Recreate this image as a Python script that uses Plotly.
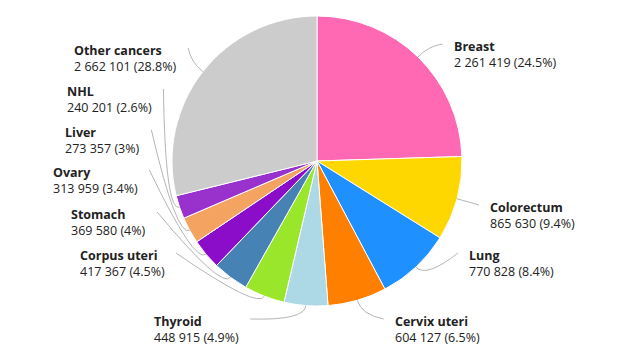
import math
import plotly.graph_objects as go

# ---- data ----
categories = ["Breast", "Colorectum", "Lung", "Cervix uteri", "Thyroid",
              "Corpus uteri", "Stomach", "Ovary", "Liver", "NHL", "Other cancers"]
cases = [2261419, 865630, 770828, 604127, 448915,
         417367, 369580, 313959, 273357, 240201, 2662101]
colors = ["#FF69B4", "#FFD700", "#1E90FF", "#FF7F00", "#ADD8E6",
          "#9AE62B", "#4682B4", "#8B0CC9", "#F4A460", "#9932CC", "#CCCCCC"]

# ---- layout parameters (pixels) ----
W, H = 625, 354
CX, CY, R = 317, 161, 145
# vertical centre of each label's first line (layout of the label column)
label_line_y = [44, 205, 253, 319, 319, 253, 212, 170, 130, 89, 48]
LABEL_R = 177          # radius of the circle the label edges sit on
LABEL_CY = CY + 5
GAP = 9

def fmt_num(v):
    return f"{v:,}".replace(",", " ")

total = sum(cases)

def fmt_pct(v):
    p = round(v / total * 100, 1)
    s = f"{p:.1f}"
    return s[:-2] if s.endswith(".0") else s

def px(x):
    return x / W

def py(y):
    return 1 - y / H

fig = go.Figure(go.Pie(
    labels=categories, values=cases, sort=False, direction="clockwise",
    rotation=0, marker=dict(colors=colors, line=dict(color="white", width=1)),
    textinfo="none", hoverinfo="label+value+percent", showlegend=False,
    domain=dict(x=[(CX - R) / W, (CX + R) / W], y=[(H - CY - R) / H, (H - CY + R) / H]),
))

annotations = []
shapes = []
cum = 0
for name, v, ly in zip(categories, cases, label_line_y):
    mid = (cum + v / 2) / total * 2 * math.pi
    cum += v
    s, c = math.sin(mid), math.cos(mid)
    right = s >= 0
    p0 = (CX + R * s, CY - R * c)
    p1 = (CX + (R + 15) * s, CY - (R + 15) * c)
    dy = ly + 7 - LABEL_CY
    dx = math.sqrt(max(LABEL_R ** 2 - dy ** 2, 0))
    edge_x = CX + dx if right else CX - dx
    end_x = edge_x - GAP if right else edge_x + GAP
    path = (f"M {px(p0[0])},{py(p0[1])} Q {px(p1[0])},{py(p1[1])} "
            f"{px(end_x)},{py(ly)}")
    shapes.append(dict(type="path", path=path, xref="paper", yref="paper",
                       line=dict(color="#B5B5B5", width=1)))
    annotations.append(dict(
        x=px(edge_x), y=py(ly - 8), xref="paper", yref="paper",
        xanchor="left" if right else "right", yanchor="top", align="left",
        showarrow=False,
        text=f"<b>{name}</b><br>{fmt_num(v)} ({fmt_pct(v)}%)",
        font=dict(family="Open Sans", size=12.5, color="#222222"),
    ))

fig.update_layout(
    width=W, height=H, margin=dict(l=0, r=0, t=0, b=0),
    paper_bgcolor="white", plot_bgcolor="white",
    annotations=annotations, shapes=shapes,
)
fig.write_html("out.html")
